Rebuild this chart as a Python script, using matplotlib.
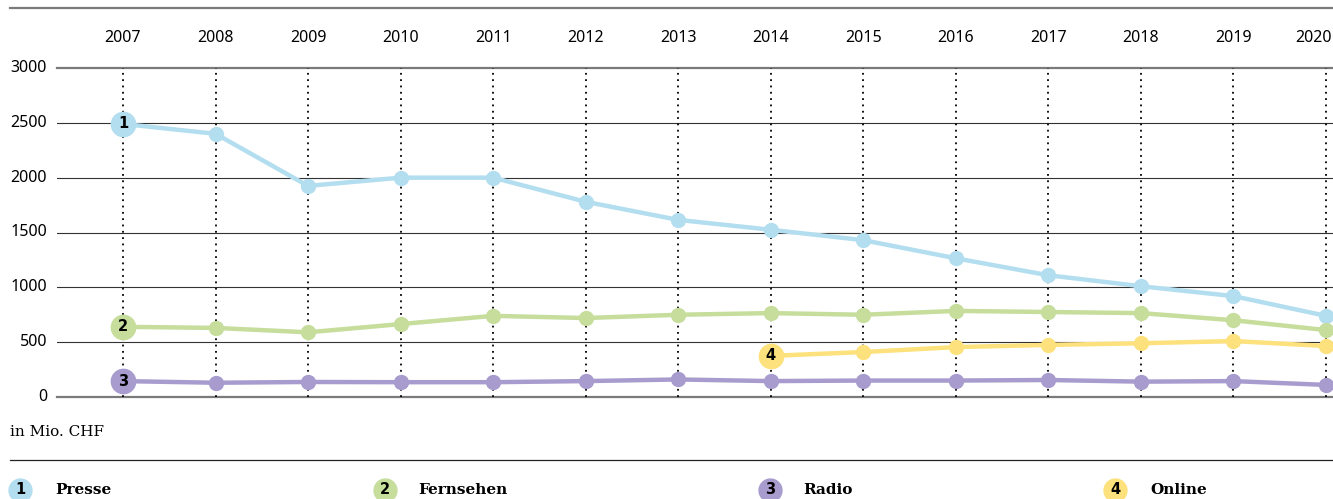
import matplotlib
matplotlib.use('Agg')
from matplotlib import pyplot as plt

years = [2007, 2008, 2009, 2010, 2011, 2012, 2013, 2014, 2015, 2016, 2017, 2018, 2019, 2020]
presse = [2490, 2400, 1925, 2000, 2000, 1780, 1615, 1525, 1430, 1265, 1110, 1010, 920, 740]
fernsehen = [640, 630, 590, 665, 740, 720, 750, 765, 750, 785, 775, 765, 700, 610]
radio = [145, 130, 137, 135, 135, 145, 160, 145, 150, 150, 155, 140, 145, 110]
online_years = [2014, 2015, 2016, 2017, 2018, 2019, 2020]
online = [375, 410, 455, 475, 490, 510, 465]

series_names = ['Presse', 'Fernsehen', 'Radio', 'Online']
colors = ['#b3def0', '#c6dd9c', '#a89ccf', '#fde17c']
y_ticks = [0, 500, 1000, 1500, 2000, 2500, 3000]

W, H = 1333, 499


def graphing():
    fig = plt.figure(figsize=(W / 100, H / 100), dpi=100)
    ax = fig.add_axes([57 / W, 1 - 397 / H, (W - 57) / W, (397 - 68) / H])
    step = (1326 - 123) / 13
    ax.set_xlim(2007 - (123 - 57) / step, 2020 + (W - 1326) / step)
    ax.set_ylim(0, 3000)
    for s in ax.spines.values():
        s.set_visible(False)
    ax.set_xticks([])
    ax.set_yticks([])

    # horizontal grid
    for v in y_ticks:
        if v in (0, 3000):
            ax.axhline(v, color='#7a7a7a', lw=1.6, clip_on=False, zorder=1)
        else:
            ax.axhline(v, color='#333333', lw=0.8, zorder=1)
        ax.text(-10 / (W - 57), v, str(v), transform=ax.get_yaxis_transform(),
                ha='right', va='center', fontsize=11.5, family='Noto Sans')

    # vertical dotted lines + year labels
    for i, yr in enumerate(years):
        ax.axvline(yr, ymin=0, ymax=1, color='black', lw=1.3, ls=(0, (1, 2.5)), zorder=1)
        if i == len(years) - 1:
            ax.text(yr + 6 / step, 3270, str(yr), ha='right', va='center',
                    fontsize=11.5, family='Noto Sans', clip_on=False)
        else:
            ax.text(yr, 3270, str(yr), ha='center', va='center',
                    fontsize=11.5, family='Noto Sans', clip_on=False)

    data = [(years, presse), (years, fernsehen), (years, radio), (online_years, online)]
    for k, ((xs, ys), c) in enumerate(zip(data, colors)):
        ax.plot(xs, ys, color=c, lw=3.2, marker='o', markersize=10, zorder=3,
                clip_on=False, solid_capstyle='round')
        ax.plot(xs[0], ys[0], 'o', color=c, markersize=17.5, zorder=4, clip_on=False)
        ax.text(xs[0], ys[0], str(k + 1), ha='center', va='center', fontsize=10.5,
                fontweight='bold', family='DejaVu Sans', zorder=5)

    # decorations outside axes
    fig.add_artist(plt.Line2D([10 / W, 1], [1 - 8 / H, 1 - 8 / H], color='#7a7a7a', lw=1.6))
    fig.add_artist(plt.Line2D([10 / W, 1], [1 - 460 / H, 1 - 460 / H], color='#222222', lw=0.9))
    fig.text(10 / W, 1 - 432 / H, 'in Mio. CHF', ha='left', va='center',
             fontsize=11, family='DejaVu Serif')

    leg_dot_x = [20, 385, 770, 1115]
    leg_txt_x = [55, 418, 803, 1150]
    ly = 1 - 490 / H
    for k in range(4):
        fig.add_artist(plt.Line2D([leg_dot_x[k] / W], [ly], marker='o', markersize=16.5,
                                  color=colors[k], ls='none'))
        fig.text(leg_dot_x[k] / W, ly, str(k + 1), ha='center', va='center',
                 fontsize=10.5, fontweight='bold', family='DejaVu Sans')
        fig.text(leg_txt_x[k] / W, ly, series_names[k], ha='left', va='center',
                 fontsize=11, fontweight='bold', family='DejaVu Serif')

    fig.savefig('out.png', dpi=100)


if __name__ == "__main__":
    graphing()
